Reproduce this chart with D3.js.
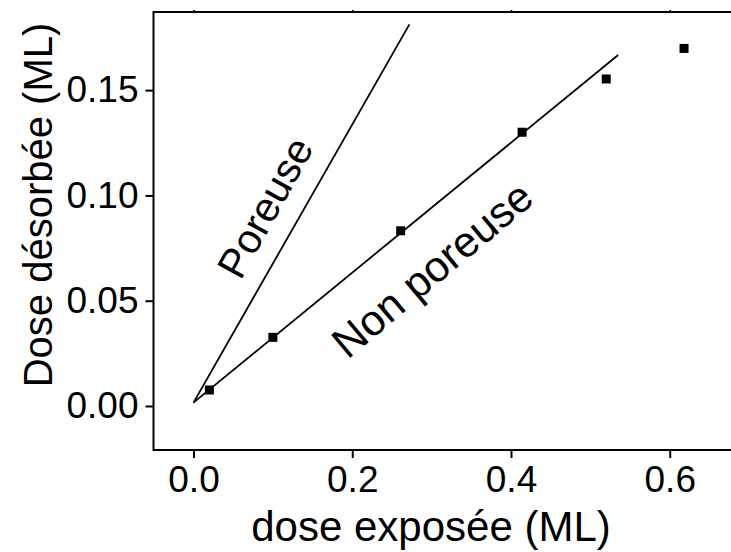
<!DOCTYPE html>
<html>
<head>
<meta charset="utf-8">
<script src="https://cdn.jsdelivr.net/npm/d3@7"></script>
<style>
html, body { margin: 0; padding: 0; background: #fff; }
svg { display: block; }
text { font-family: "Liberation Sans", Arial, Helvetica, sans-serif; fill: #000; }
</style>
</head>
<body>
<svg id="chart" width="731" height="552"></svg>
<script>
// Data
const exposedDose = [0.020, 0.100, 0.261, 0.414, 0.520, 0.618];
const desorbedDose = [0.0076, 0.0326, 0.0832, 0.1300, 0.1553, 0.1698];
const nonPorousFitX = [0.0, 0.535];
const nonPorousFitY = [0.0016, 0.1667];
const porousFitX = [0.0, 0.272];
const porousFitY = [0.0016, 0.1812];
const xTicks = [0.0, 0.2, 0.4, 0.6];
const yTicks = [0.00, 0.05, 0.10, 0.15];
const xTitle = "dose exposée (ML)";
const yTitle = "Dose désorbée (ML)";
const labelPorous = "Poreuse";
const labelNonPorous = "Non poreuse";

const svg = d3.select("#chart");
const mLeft = 153.5, mTop = 12, mBottom = 450, mRight = 733;

const x = d3.scaleLinear().domain([-0.0504, 0.6797]).range([mLeft, mRight]);
const y = d3.scaleLinear().domain([-0.0209, 0.1871]).range([mBottom, mTop]);

// frame
svg.append("rect")
  .attr("x", mLeft).attr("y", mTop)
  .attr("width", mRight - mLeft).attr("height", mBottom - mTop)
  .attr("fill", "none").attr("stroke", "#000").attr("stroke-width", 2);

// bottom axis
const xAxis = d3.axisBottom(x).tickValues(xTicks).tickFormat(d3.format(".1f"))
  .tickSizeOuter(0).tickSizeInner(8).tickPadding(8);
const gx = svg.append("g").attr("transform", `translate(0,${mBottom})`).call(xAxis);
gx.select(".domain").remove();
gx.selectAll("line").attr("stroke-width", 2);
gx.selectAll("text").attr("font-size", 37).attr("font-family", "Liberation Sans, Arial, sans-serif");

// top small ticks
const xAxisTop = d3.axisTop(x).tickValues(xTicks).tickFormat("").tickSizeOuter(0).tickSizeInner(2);
const gxt = svg.append("g").attr("transform", `translate(0,${mTop})`).call(xAxisTop);
gxt.select(".domain").remove();
gxt.selectAll("line").attr("stroke-width", 1.5);

// left axis
const yAxis = d3.axisLeft(y).tickValues(yTicks).tickFormat(d3.format(".2f"))
  .tickSizeOuter(0).tickSizeInner(8).tickPadding(7);
const gy = svg.append("g").attr("transform", `translate(${mLeft},0)`).call(yAxis);
gy.select(".domain").remove();
gy.selectAll("line").attr("stroke-width", 2);
gy.selectAll("text").attr("font-size", 37).attr("font-family", "Liberation Sans, Arial, sans-serif");

// titles
svg.append("text")
  .attr("x", 431).attr("y", 541)
  .attr("text-anchor", "middle").attr("font-size", 42)
  .text(xTitle);
svg.append("text")
  .attr("transform", `translate(52,205) rotate(-90)`)
  .attr("text-anchor", "middle").attr("font-size", 40)
  .text(yTitle);

// fit lines
const line = d3.line().x(d => x(d[0])).y(d => y(d[1]));
svg.append("path")
  .datum(d3.zip(porousFitX, porousFitY))
  .attr("d", line).attr("fill", "none").attr("stroke", "#000").attr("stroke-width", 1.8);
svg.append("path")
  .datum(d3.zip(nonPorousFitX, nonPorousFitY))
  .attr("d", line).attr("fill", "none").attr("stroke", "#000").attr("stroke-width", 1.8);

// points
const s = 9;
svg.append("g").selectAll("rect")
  .data(d3.zip(exposedDose, desorbedDose))
  .join("rect")
  .attr("x", d => x(d[0]) - s / 2).attr("y", d => y(d[1]) - s / 2)
  .attr("width", s).attr("height", s).attr("fill", "#000");

// annotations
svg.append("text")
  .attr("transform", `translate(277.6,214.4) rotate(-61)`)
  .attr("text-anchor", "middle").attr("font-size", 41)
  .text(labelPorous);
svg.append("text")
  .attr("transform", `translate(441.7,280.8) rotate(-40)`)
  .attr("text-anchor", "middle").attr("font-size", 43)
  .text(labelNonPorous);
</script>
</body>
</html>
